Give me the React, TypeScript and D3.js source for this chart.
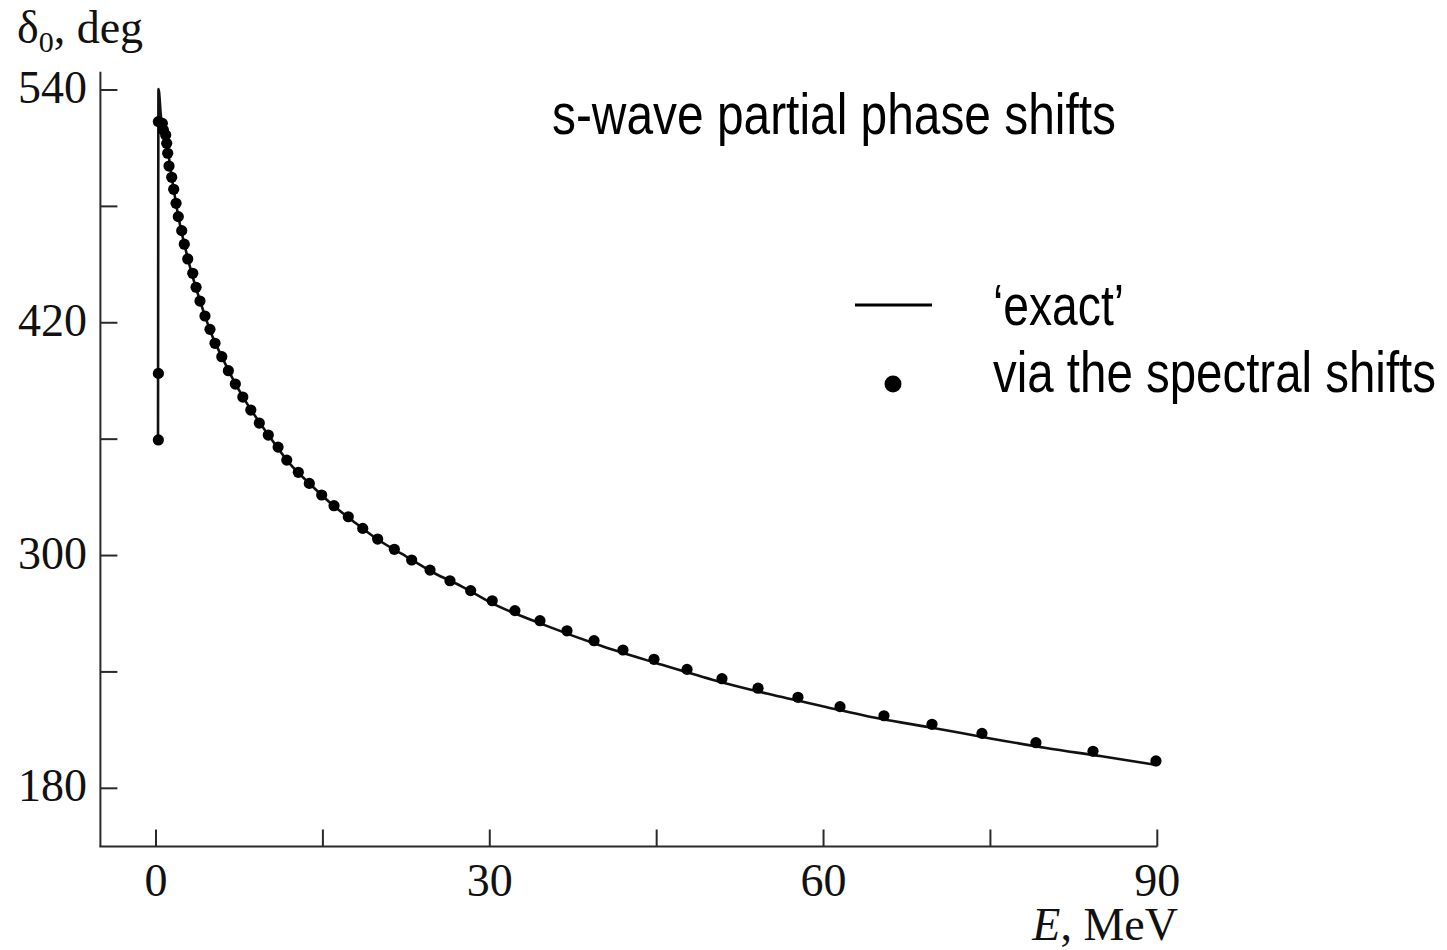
import React from "react";
import * as d3 from "d3";

// ---- data ----
const DOT_E = [
  0.21, 0.21, 0.21, 0.57, 0.66, 0.87, 0.96, 1.05, 1.17, 1.41, 1.59, 1.8, 2.0, 2.31, 2.54, 2.85,
  3.3, 3.6, 3.95, 4.4, 4.85, 5.3, 5.91, 6.5, 7.13, 7.8, 8.52, 9.28, 10.09, 10.97, 11.75, 12.79,
  13.78, 14.89, 16.0, 17.28, 18.58, 19.92, 21.42, 22.98, 24.63, 26.42, 28.28, 30.22, 32.26,
  34.51, 36.94, 39.37, 41.97, 44.76, 47.73, 50.87, 54.11, 57.7, 61.48, 65.43, 69.75, 74.24,
  79.09, 84.22, 89.88,
];
const DOT_DELTA = [
  359.6, 393.9, 523.7, 522.8, 519.4, 516.8, 512.5, 507.4, 500.8, 495.0, 488.8, 481.6, 474.7,
  467.5, 460.5, 452.9, 445.5, 438.3, 431.2, 423.5, 416.6, 409.4, 402.5, 395.3, 388.4, 381.7,
  375.0, 368.3, 362.1, 355.9, 349.2, 342.9, 337.2, 331.2, 325.7, 320.0, 314.0, 308.5, 303.2,
  297.7, 292.5, 287.0, 281.9, 276.7, 271.6, 266.4, 261.2, 256.1, 251.3, 246.5, 241.3, 236.5,
  231.6, 226.9, 222.1, 217.4, 213.0, 208.3, 203.5, 199.1, 194.1,
];

const LINE_E = [
  0.18, 0.22, 0.45, 0.7, 1.0, 1.5, 2.0, 3.0, 4.0, 5.0, 6.0, 7.0, 8.0, 10.0, 12.0, 14.0, 16.0,
  18.0, 20.0, 22.5, 25.0, 27.5, 30.0, 35.0, 40.0, 45.0, 50.0, 55.0, 60.0, 65.0, 70.0, 75.0,
  80.0, 85.0, 90.0,
];
const LINE_DELTA = [
  359.6, 540.5, 526, 520, 511, 492, 475, 450, 430.5, 414, 401.5, 390, 380, 363, 347.5, 336,
  325.5, 316.5, 308, 299.5, 291, 284, 276, 264, 253.5, 244.5, 236, 228.7, 222.2, 216, 211,
  205.7, 200.8, 196.5, 192,
];

const X_TICKS = [0, 15, 30, 45, 60, 75, 90];
const X_LABELS = [0, 30, 60, 90];
const Y_TICKS = [180, 240, 300, 360, 420, 480, 540];
const Y_LABELS = [180, 300, 420, 540];

const TITLE = "s-wave partial phase shifts";
const LEGEND_LINE = "\u2018exact\u2019";
const LEGEND_DOTS = "via the spectral shifts";

export default function App() {
  const W = 1447;
  const H = 950;
  const x = d3.scaleLinear().domain([-5, 90]).range([100.4, 1157.3]);
  const y = d3.scaleLinear().domain([150, 550]).range([846.5, 70.6]);

  const lineData = LINE_E.map((e, i) => [e, LINE_DELTA[i]] as [number, number]);
  const dots = DOT_E.map((e, i) => [e, DOT_DELTA[i]] as [number, number]);

  const lineGen = d3
    .line<[number, number]>()
    .x((d) => x(d[0]))
    .y((d) => y(d[1]))
    .curve(d3.curveMonotoneX);

  const serif = "'Liberation Serif', 'Times New Roman', Times, serif";
  const narrow =
    "'Liberation Sans Narrow', 'Arial Narrow', 'Liberation Sans', Arial, sans-serif";
  const axisColor = "#2a2a2a";
  const x0 = x(-5);
  const yBase = y(150);
  const tickLen = 17;

  return (
    <svg
      width={W}
      height={H}
      viewBox={`0 0 ${W} ${H}`}
      style={{ position: "absolute", left: 0, top: 0, background: "#fff" }}
    >
      {/* axes */}
      <line x1={x0} x2={x0} y1={y(549.4)} y2={yBase} stroke={axisColor} strokeWidth={2} />
      <line x1={x0 - 1} x2={x(90)} y1={yBase} y2={yBase} stroke={axisColor} strokeWidth={2} />
      {Y_TICKS.map((t) => (
        <line key={"yt" + t} x1={x0} x2={x0 + tickLen} y1={y(t)} y2={y(t)} stroke={axisColor} strokeWidth={2} />
      ))}
      {X_TICKS.map((t) => (
        <line key={"xt" + t} x1={x(t)} x2={x(t)} y1={yBase} y2={yBase - tickLen} stroke={axisColor} strokeWidth={2} />
      ))}
      {Y_LABELS.map((t) => (
        <text key={"yl" + t} x={87} y={y(t) + 13} textAnchor="end" fontFamily={serif} fontSize={46} fill="#111">
          {t}
        </text>
      ))}
      {X_LABELS.map((t) => (
        <text key={"xl" + t} x={x(t)} y={896} textAnchor="middle" fontFamily={serif} fontSize={46} fill="#111">
          {t}
        </text>
      ))}
      {/* axis titles */}
      <text x={17} y={43} fontFamily={serif} fontSize={46} fill="#111">
        δ<tspan fontSize={30} dy={9}>0</tspan>
        <tspan dy={-9}>, deg</tspan>
      </text>
      <text x={1178} y={940} textAnchor="end" fontFamily={serif} fontSize={46} fill="#111">
        <tspan fontStyle="italic">E</tspan>, MeV
      </text>

      {/* exact curve */}
      <path d={lineGen(lineData) || ""} fill="none" stroke="#111" strokeWidth={2.6} strokeLinejoin="round" />
      {/* spectral shift points */}
      {dots.map((d, i) => (
        <circle key={"d" + i} cx={x(d[0])} cy={y(d[1])} r={5.6} fill="#000" />
      ))}

      {/* title & legend */}
      <text x={552} y={134} fontFamily={narrow} fontSize={58} fill="#000" textLength={564} lengthAdjust="spacingAndGlyphs">
        {TITLE}
      </text>
      <line x1={855} x2={932} y1={305} y2={305} stroke="#000" strokeWidth={3} />
      <text x={993} y={325} fontFamily={narrow} fontSize={58} fill="#000" textLength={131} lengthAdjust="spacingAndGlyphs">
        {LEGEND_LINE}
      </text>
      <circle cx={893} cy={384} r={8.5} fill="#000" />
      <text x={993} y={392} fontFamily={narrow} fontSize={58} fill="#000" textLength={443} lengthAdjust="spacingAndGlyphs">
        {LEGEND_DOTS}
      </text>
    </svg>
  );
}
